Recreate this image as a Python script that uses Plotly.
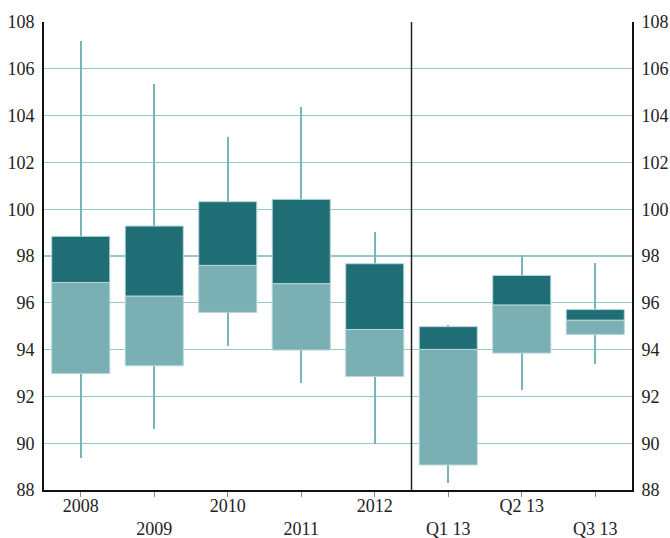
import plotly.graph_objects as go

categories = ["2008", "2009", "2010", "2011", "2012", "Q1 13", "Q2 13", "Q3 13"]
whisker_high = [107.2, 105.35, 103.1, 104.38, 99.03, 95.06, 98.03, 97.7]
box_high = [98.84, 99.28, 100.32, 100.42, 97.67, 94.98, 97.17, 95.71]
box_mid = [96.87, 96.29, 97.6, 96.82, 94.86, 94.01, 95.91, 95.26]
box_low = [92.98, 93.31, 95.59, 93.98, 92.85, 89.07, 93.85, 94.65]
whisker_low = [89.35, 90.61, 94.14, 92.57, 89.98, 88.3, 92.29, 93.38]
y_ticks = list(range(88, 109, 2))

DARK = "#206e75"
LIGHT = "#7aafb4"
WHISK = "#7ab3b8"
GRID = "#99c7cb"
EDGE = "#b4d6d9"
FONT = "Liberation Serif, Times New Roman, Times, serif"

x = list(range(len(categories)))
ticktext = [c if i % 2 == 0 else "<br>" + c for i, c in enumerate(categories)]

fig = go.Figure()
# whiskers
fig.add_trace(go.Bar(
    x=x, base=whisker_low,
    y=[h - l for h, l in zip(whisker_high, whisker_low)],
    width=0.028, marker=dict(color=WHISK, line=dict(width=0)),
    hoverinfo="skip", showlegend=False,
))
# lower box
fig.add_trace(go.Bar(
    x=x, base=box_low,
    y=[m - l for m, l in zip(box_mid, box_low)],
    width=0.79, marker=dict(color=LIGHT, line=dict(color=EDGE, width=1)),
    showlegend=False,
))
# upper box
fig.add_trace(go.Bar(
    x=x, base=box_mid,
    y=[h - m for h, m in zip(box_high, box_mid)],
    width=0.79, marker=dict(color=DARK, line=dict(color=EDGE, width=1)),
    showlegend=False,
))
# invisible trace for right axis
fig.add_trace(go.Scatter(x=[0], y=[98], yaxis="y2", mode="markers",
                         marker=dict(opacity=0), hoverinfo="skip", showlegend=False))

fig.add_shape(type="line", xref="x", yref="paper", x0=4.5, x1=4.5, y0=0, y1=1,
              line=dict(color="#222222", width=1.5))

fig.update_layout(
    width=670, height=538,
    margin=dict(l=44, r=38, t=22, b=48),
    paper_bgcolor="white", plot_bgcolor="white",
    barmode="overlay", bargap=0,
    font=dict(family=FONT, size=18, color="#222222"),
    xaxis=dict(
        range=[-0.5, 7.5], tickmode="array", tickvals=x, ticktext=ticktext,
        ticks="outside", ticklen=5, tickcolor="#888888", tickwidth=1,
        showgrid=False, showline=True, linecolor="#111111", linewidth=2,
        zeroline=False, fixedrange=True, automargin=False,
        ticklabelstandoff=-7,
    ),
    yaxis=dict(
        range=[88, 108], tickmode="array", tickvals=y_ticks,
        showgrid=True, gridcolor=GRID, gridwidth=1.3,
        showline=True, linecolor="#111111", linewidth=2,
        ticks="", zeroline=False, ticklabelstandoff=4, automargin=False,
    ),
    yaxis2=dict(
        range=[88, 108], tickmode="array", tickvals=y_ticks,
        overlaying="y", side="right", showgrid=False,
        showline=True, linecolor="#111111", linewidth=2,
        ticks="", zeroline=False, ticklabelstandoff=4, automargin=False,
    ),
)

fig.write_html(
    "out.html",
    config={"displayModeBar": False, "staticPlot": True},
    post_script="document.body.style.margin='0';document.body.style.overflow='hidden';",
)
